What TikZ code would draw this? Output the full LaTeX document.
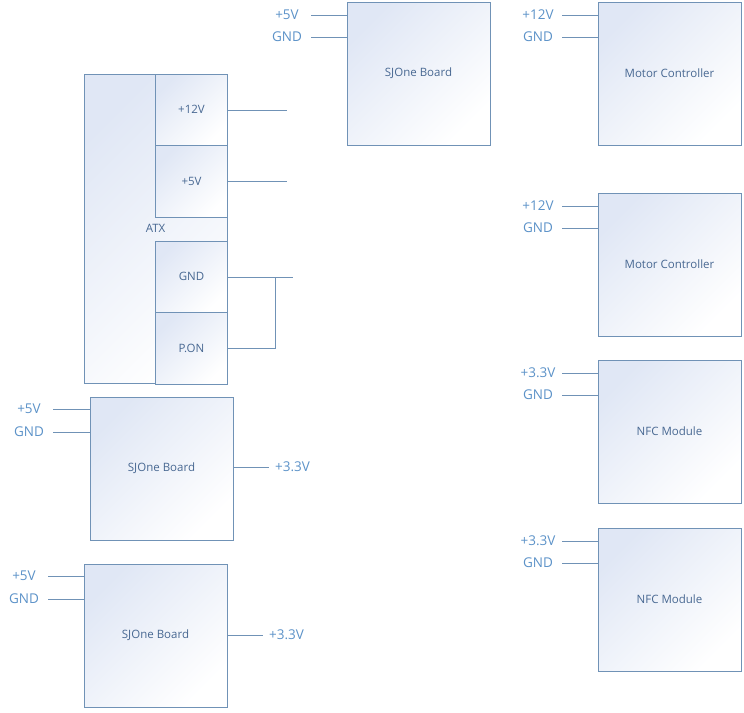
\documentclass[tikz,border=0pt]{standalone}
\usepackage{fontspec}
\setmainfont{Open Sans}
\usetikzlibrary{positioning}
\definecolor{boxline}{RGB}{112,146,182}
\definecolor{boxfill}{RGB}{224,231,245}
\definecolor{pintext}{RGB}{92,146,200}
\definecolor{boxtext}{RGB}{72,104,146}
\tikzset{
  board/.style={draw=boxline, line width=1pt, inner sep=0pt,
    minimum width=143pt, minimum height=143pt,
    top color=boxfill, middle color=white, bottom color=white, shading angle=45,
    text=boxtext, font=\fontsize{11.5}{13}\selectfont},
  part/.style={board, minimum width=72pt, minimum height=71.5pt},
  wire/.style={draw=boxline, line width=1pt},
  pin/.style={text=pintext, inner sep=0pt, font=\fontsize{13.5}{15}\selectfont},
}
\begin{document}
\begin{tikzpicture}[x=1pt,y=-1pt]
\useasboundingbox (0,0) rectangle (744,712);
% boards
\node [board] (sjtop) at (418.5,73.5) {SJOne Board};
\node [board] (mc1) at (669.5,73.5) {Motor Controller};
\node [board] (mc2) at (669.5,264.5) {Motor Controller};
\node [board] (nfc1) at (669.5,431.5) {NFC Module};
\node [board] (nfc2) at (669.5,599.5) {NFC Module};
\node [board] (sjl1) at (161.5,468.5) {SJOne Board};
\node [board] (sjl2) at (155.5,635.5) {SJOne Board};
% ATX
\node [board, minimum height=309pt] (atx) at (155.5,228.5) {ATX};
\node [part] (v12) at (191.5,109.75) {+12V};
\node [part] (v5) at (191.5,181.25) {+5V};
\node [part] (gnd) at (191.5,276.75) {GND};
\node [part] (pon) at (191.5,348.25) {P.ON};
\coordinate (v12e) at (287,110);
\coordinate (v5e) at (287,181);
\coordinate (gnde) at (293,277);
\coordinate (ponx) at (275,277);
\draw [wire] (v12.east |- v12e) -- (v12e);
\draw [wire] (v5.east |- v5e) -- (v5e);
\draw [wire] (gnd.east |- gnde) -- (gnde);
\draw [wire] (pon.east) -| (ponx);
% pins top SJOne
\coordinate (sjtop5) at (311,15);
\coordinate (sjtopg) at (311,37);
\draw [wire] (sjtop5) -- (sjtop.west |- sjtop5);
\draw [wire] (sjtopg) -- (sjtop.west |- sjtopg);
\node [pin, xshift=-24pt] (sjtop5l) at (sjtop5) {+5V};
\node [pin, xshift=-24pt] (sjtopgl) at (sjtopg) {GND};
% pins motor controllers
\coordinate (mc112) at (562,15);
\coordinate (mc1g) at (562,37);
\draw [wire] (mc112) -- (mc1.west |- mc112);
\draw [wire] (mc1g) -- (mc1.west |- mc1g);
\node [pin, xshift=-24pt] (mc112l) at (mc112) {+12V};
\node [pin, xshift=-24pt] (mc1gl) at (mc1g) {GND};
\coordinate (mc212) at (562,206);
\coordinate (mc2g) at (562,228);
\draw [wire] (mc212) -- (mc2.west |- mc212);
\draw [wire] (mc2g) -- (mc2.west |- mc2g);
\node [pin, xshift=-24pt] (mc212l) at (mc212) {+12V};
\node [pin, xshift=-24pt] (mc2gl) at (mc2g) {GND};
% pins NFC
\coordinate (nfc13) at (562,373);
\coordinate (nfc1g) at (562,395);
\draw [wire] (nfc13) -- (nfc1.west |- nfc13);
\draw [wire] (nfc1g) -- (nfc1.west |- nfc1g);
\node [pin, xshift=-24pt] (nfc13l) at (nfc13) {+3.3V};
\node [pin, xshift=-24pt] (nfc1gl) at (nfc1g) {GND};
\coordinate (nfc23) at (562,541);
\coordinate (nfc2g) at (562,563);
\draw [wire] (nfc23) -- (nfc2.west |- nfc23);
\draw [wire] (nfc2g) -- (nfc2.west |- nfc2g);
\node [pin, xshift=-24pt] (nfc23l) at (nfc23) {+3.3V};
\node [pin, xshift=-24pt] (nfc2gl) at (nfc2g) {GND};
% pins left SJOne boards
\coordinate (sjl15) at (53,409);
\coordinate (sjl1g) at (53,432);
\coordinate (sjl13) at (269,467);
\draw [wire] (sjl15) -- (sjl1.west |- sjl15);
\draw [wire] (sjl1g) -- (sjl1.west |- sjl1g);
\draw [wire] (sjl1.east |- sjl13) -- (sjl13);
\node [pin, xshift=-24pt] (sjl15l) at (sjl15) {+5V};
\node [pin, xshift=-24pt] (sjl1gl) at (sjl1g) {GND};
\node [pin, right=6pt of sjl13] (sjl13l) {+3.3V};
\coordinate (sjl25) at (48,576);
\coordinate (sjl2g) at (48,599);
\coordinate (sjl23) at (263,635);
\draw [wire] (sjl25) -- (sjl2.west |- sjl25);
\draw [wire] (sjl2g) -- (sjl2.west |- sjl2g);
\draw [wire] (sjl2.east |- sjl23) -- (sjl23);
\node [pin, xshift=-24pt] (sjl25l) at (sjl25) {+5V};
\node [pin, xshift=-24pt] (sjl2gl) at (sjl2g) {GND};
\node [pin, right=6pt of sjl23] (sjl23l) {+3.3V};
\end{tikzpicture}
\end{document}
